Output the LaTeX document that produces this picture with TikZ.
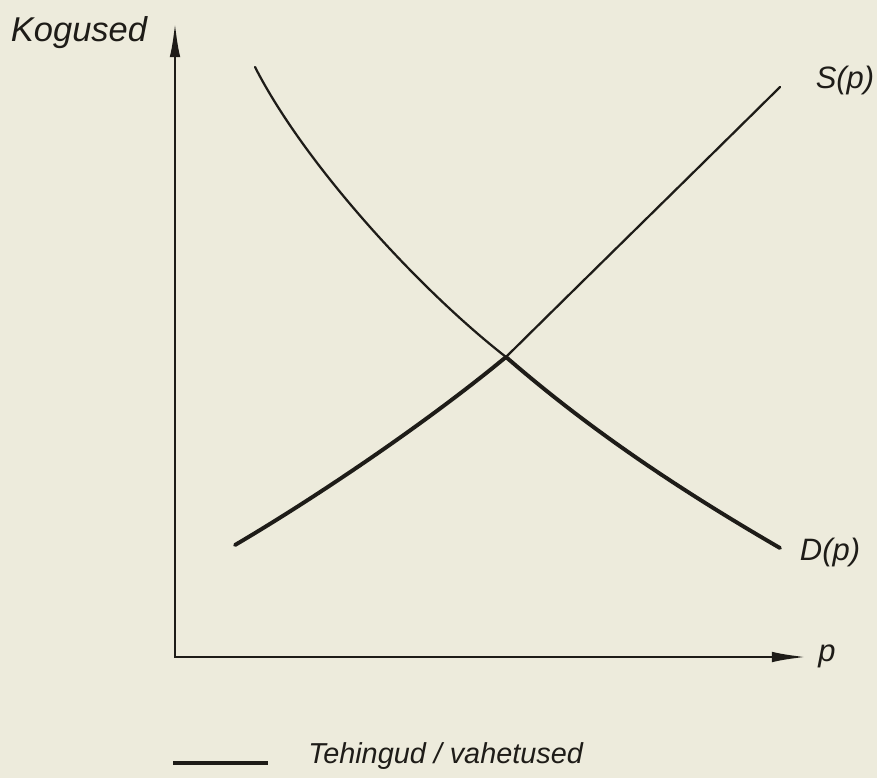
\documentclass[tikz,border=0pt]{standalone}
\usepackage{fontspec}
\setmainfont{Liberation Sans}
\usetikzlibrary{arrows.meta}
\definecolor{paper}{HTML}{EDEBDC}
\definecolor{ink}{HTML}{1E1C18}
\tikzset{
  axis/.style={draw=ink, line width=2pt,
               {Latex[length=25pt,width=7.5pt]}-{Latex[length=25pt,width=7.5pt]}},
  curve/.style={draw=ink, line width=1.6pt, line cap=round},
  deal/.style={draw=ink, line width=2.8pt, line cap=round},
  lbl/.style={font=\itshape\fontsize{22}{26}\selectfont, text=ink, inner sep=0pt},
  legendlbl/.style={lbl, font=\itshape\fontsize{20.5}{24}\selectfont, anchor=west},
}

\begin{document}
\begin{tikzpicture}[x=0.025cm, y=-0.025cm]
  \fill[paper] (0,0) rectangle (877,778);
  \useasboundingbox (0,0) rectangle (877,778);

  % axes
  \coordinate (O) at (175,657);
  \coordinate (ytip) at (175,22);
  \coordinate (xtip) at (807,657);
  \draw[axis] (ytip) -- (O) -- (xtip);
  \node[lbl, font=\itshape\fontsize{24.5}{28}\selectfont] (ylabel) at (79,33) {Kogused};
  \node[lbl] (xlabel) at (827,656) {p};

  % demand and supply
  \coordinate (Dstart) at (255,67);
  \coordinate (Dend) at (780,548);
  \coordinate (Sstart) at (235,545);
  \coordinate (Send) at (780,87);
  \coordinate (E) at (506,357);
  \draw[curve] (Dstart) .. controls (305,165) and (420,290) .. (E);
  \draw[curve] (E) .. controls (596,268) and (688,178) .. (Send);
  \draw[deal] (Sstart) .. controls (320,495) and (430,420) .. (E);
  \draw[deal] (E) .. controls (590,430) and (680,490) .. (Dend);
  \node[lbl] (Slabel) at (845,80) {S(p)};
  \node[lbl] (Dlabel) at (830,552) {D(p)};

  % legend
  \coordinate (legA) at (173,763);
  \coordinate (legB) at (268,763);
  \draw[deal, line cap=butt] (legA) -- (legB);
  \node[legendlbl] (legtext) at (308,756) {Tehingud / vahetused};
\end{tikzpicture}
\end{document}
